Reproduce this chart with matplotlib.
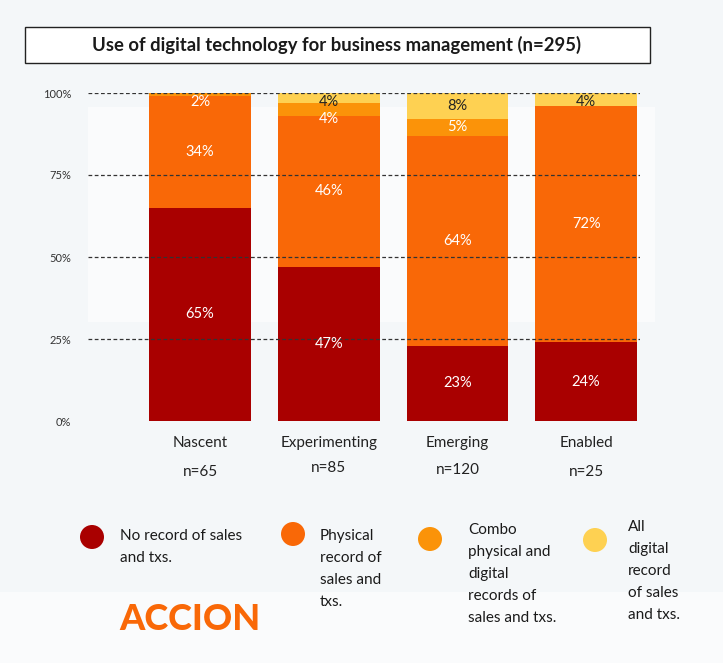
import matplotlib
matplotlib.use("Agg")
import matplotlib.pyplot as plt
from matplotlib.patches import Rectangle, Ellipse
import matplotlib.transforms as mtransforms

plt.rcParams['font.family'] = ['Lato', 'DejaVu Sans']

# ---- data ----
categories = ["Nascent", "Experimenting", "Emerging", "Enabled"]
n_labels = ["n=65", "n=85", "n=120", "n=25"]
series_names = ["No record of sales\nand txs.",
                "Physical\nrecord of\nsales and\ntxs.",
                "Combo\nphysical and\ndigital\nrecords of\nsales and txs.",
                "All\ndigital\nrecord\nof sales\nand txs."]
no_record = [65, 47, 23, 24]
physical = [34, 46, 64, 72]
combo = [2, 4, 5, 0]
all_digital = [0, 4, 8, 4]
y_ticks = [0, 25, 50, 75, 100]
y_tick_labels = ["0%", "25%", "50%", "75%", "100%"]
title = "Use of digital technology for business management (n=295)"

colors = ["#A90000", "#F96807", "#FB9309", "#FED152"]
label_colors = ["white", "white", "white", "#222222"]

W, H = 723, 663
fig = plt.figure(figsize=(W / 100, H / 100), dpi=100)
fig.patch.set_facecolor("#F4F7F9")

def fx(px):
    return px / W

def fy(py):
    return 1 - py / H

# subtle background shapes
fig.add_artist(Rectangle((fx(88), fy(322)), fx(655 - 88), (322 - 107) / H,
                         transform=fig.transFigure, facecolor="#FAFBFC",
                         edgecolor="none", zorder=0))
fig.add_artist(Rectangle((fx(0), fy(663)), 1, (663 - 592) / H,
                         transform=fig.transFigure, facecolor="#FAFBFC",
                         edgecolor="none", zorder=0))

# title box
fig.add_artist(Rectangle((fx(25), fy(63)), fx(650 - 25), (63 - 27) / H,
                         transform=fig.transFigure, facecolor="white",
                         edgecolor="#222222", lw=1.0, zorder=1))
fig.text(fx(337), fy(45), title, ha="center", va="center",
         fontsize=13.3, fontweight="bold", color="#1a1a1a", zorder=2)

# axes
ax_left, ax_right = 88, 640
ax_top, ax_bottom = 93, 421
ax = fig.add_axes([fx(ax_left), fy(ax_bottom), fx(ax_right - ax_left),
                   (ax_bottom - ax_top) / H])
ax.set_facecolor("none")
x = list(range(len(categories)))
step = 128.7
ax.set_xlim((ax_left - 200) / step, (ax_right - 200) / step)
ax.set_ylim(0, 100)

series = [no_record, physical, combo, all_digital]
bottoms = [0] * len(categories)
label_specs = []  # (i, y, text, color)
for vals, col, lc in zip(series, colors, label_colors):
    ax.bar(x, vals, bottom=bottoms, width=0.79, color=col, zorder=2)
    for i, v in enumerate(vals):
        if v > 0:
            label_specs.append([i, bottoms[i] + v / 2, f"{v}%", lc])
    bottoms = [b + v for b, v in zip(bottoms, vals)]

# place labels: cap at top, push down to avoid overlap
for i in x:
    specs = sorted([s for s in label_specs if s[0] == i], key=lambda s: -s[1])
    prev = None
    for s in specs:
        y = min(s[1], 97.3)
        if prev is not None and prev - y < 5.3:
            y = prev - 5.3
        s[1] = y
        prev = y
        ax.text(i, y, s[2], ha="center", va="center", color=s[3],
                fontsize=10.5, zorder=4)

for t in y_ticks[1:]:
    ax.axhline(t, color="#333333", lw=0.9, ls=(0, (3, 2)), zorder=3)

ax.set_yticks(y_ticks, y_tick_labels)
ax.set_xticks(x, categories)
ax.tick_params(axis="y", length=0, labelsize=8, labelcolor="#333333", pad=12)
ax.tick_params(axis="x", length=0, labelsize=11, labelcolor="#222222", pad=11)
for s in ax.spines.values():
    s.set_visible(False)

trans = mtransforms.blended_transform_factory(ax.transData, fig.transFigure)
n_y = [472, 468, 470, 472]
for i, lab in enumerate(n_labels):
    ax.text(x[i], fy(n_y[i]), lab, transform=trans, ha="center", va="center",
            fontsize=11, color="#222222")

# legend
circ = [(92, 537), (293, 534), (430, 539), (595, 540)]
text_pos = [(120, 529), (320, 529), (468, 523), (628, 520)]
for (cx, cy), (tx, ty), name, col in zip(circ, text_pos, series_names, colors):
    fig.add_artist(Ellipse((fx(cx), fy(cy)), fx(24), 24 / H,
                           transform=fig.transFigure, facecolor=col,
                           edgecolor="none", zorder=2))
    fig.text(fx(tx), fy(ty), name, ha="left", va="top", fontsize=11,
             color="#1a1a1a", linespacing=1.72)

# logo
fig.text(fx(119), fy(619), "ACCION", ha="left", va="center", fontsize=26,
         fontweight="black", color="#F96807")

fig.savefig("out.png", dpi=100, facecolor=fig.get_facecolor())
